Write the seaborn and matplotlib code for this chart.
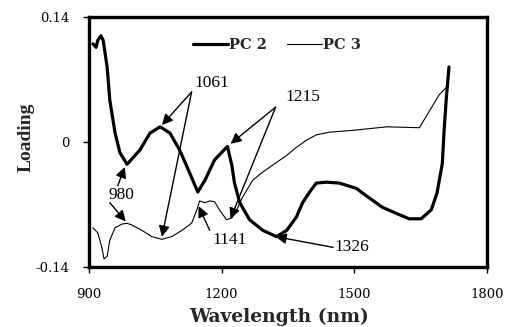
import matplotlib
matplotlib.use("Agg")
import matplotlib.pyplot as plt
import seaborn as sns
from matplotlib.lines import Line2D

# ---- data ----
pc2_nm = [909, 916, 920, 927, 932, 941, 947, 959, 970, 986, 1015, 1038, 1061, 1083,
          1105, 1128, 1146, 1162, 1184, 1213, 1223, 1229, 1241, 1263, 1293, 1324, 1347,
          1369, 1383, 1399, 1414, 1437, 1466, 1505, 1518, 1563, 1595, 1624, 1651, 1674,
          1687, 1699, 1703, 1708, 1714]
pc2_val = [0.110, 0.106, 0.114, 0.119, 0.114, 0.084, 0.047, 0.010, -0.012, -0.025,
           -0.009, 0.010, 0.017, 0.010, -0.009, -0.035, -0.056, -0.043, -0.020, -0.005,
           -0.026, -0.046, -0.068, -0.087, -0.099, -0.106, -0.099, -0.084, -0.068, -0.056,
           -0.046, -0.045, -0.046, -0.052, -0.057, -0.073, -0.080, -0.086, -0.086, -0.076,
           -0.057, -0.024, 0.013, 0.049, 0.084]

pc3_nm = [909, 920, 929, 934, 941, 947, 959, 974, 986, 997, 1020, 1042, 1065, 1087,
          1110, 1132, 1144, 1150, 1162, 1173, 1184, 1195, 1211, 1223, 1234, 1247, 1270,
          1292, 1315, 1347, 1369, 1392, 1414, 1444, 1495, 1574, 1647, 1669, 1692, 1710]
pc3_val = [-0.096, -0.102, -0.118, -0.131, -0.128, -0.110, -0.096, -0.092, -0.091, -0.093,
           -0.099, -0.106, -0.109, -0.106, -0.099, -0.091, -0.076, -0.066, -0.068, -0.066,
           -0.067, -0.076, -0.087, -0.085, -0.076, -0.062, -0.043, -0.034, -0.026, -0.015,
           -0.006, 0.002, 0.008, 0.011, 0.013, 0.017, 0.016, 0.034, 0.053, 0.062]

x_ticks = [900, 1200, 1500, 1800]
y_ticks = [-0.14, 0, 0.14]
y_tick_labels = ["-0.14", "0", "0.14"]
series_names = ["PC 2", "PC 3"]

# ---- figure ----
sns.set_theme(style="white")
plt.rcParams["font.family"] = ["DejaVu Serif"]

fig = plt.figure(figsize=(5.10, 3.27), dpi=100)
ax = fig.add_axes([89 / 510, 1 - 267 / 327, 398 / 510, 250 / 327])

sns.lineplot(x=pc2_nm, y=pc2_val, ax=ax, color="black", linewidth=2.3, sort=False)
sns.lineplot(x=pc3_nm, y=pc3_val, ax=ax, color="black", linewidth=0.8, sort=False)

ax.set_xlim(900, 1800)
ax.set_ylim(-0.14, 0.14)
ax.set_xticks(x_ticks)
ax.set_xticklabels([str(t) for t in x_ticks])
ax.set_yticks(y_ticks)
ax.set_yticklabels(y_tick_labels)

for side in ["left", "right", "top", "bottom"]:
    ax.spines[side].set_visible(True)
    ax.spines[side].set_color("black")
    ax.spines[side].set_linewidth(2.4)

ax.tick_params(axis="both", which="both", direction="out", length=4, width=1,
               colors="black", labelsize=9.5)
ax.tick_params(axis="x", pad=11)
ax.tick_params(axis="y", pad=10)
ax.tick_params(left=True, bottom=True, top=False, right=False)

ax.set_xlabel("Wavelength (nm)", fontsize=13.5, fontweight="bold", family="DejaVu Serif")
ax.set_ylabel("Loading", fontsize=14, fontweight="bold", family="Liberation Serif")
ax.xaxis.set_label_coords(0.477, -0.164)
ax.yaxis.set_label_coords(-0.136, 0.52)

# legend
handles = [Line2D([], [], color="black", linewidth=2.3),
           Line2D([], [], color="black", linewidth=0.8)]
ax.legend(handles, series_names, ncol=2, loc="center", bbox_to_anchor=(0.472, 0.888),
          frameon=False, handlelength=2.4, handletextpad=0.05, columnspacing=1.4,
          borderpad=0, prop={"family": "DejaVu Serif", "weight": "bold", "size": 10.5})

# annotations
arrow = dict(arrowstyle="-|>", color="black", lw=1.0, mutation_scale=16,
             shrinkA=0, shrinkB=0)
afont = dict(fontsize=12.5, family="Liberation Serif", color="black",
             ha="center", va="center")

ax.text(1177, 0.066, "1061", **afont)
ax.annotate("", xy=(1065, 0.019), xytext=(1132, 0.056), arrowprops=arrow)
ax.annotate("", xy=(1065, -0.106), xytext=(1132, 0.056), arrowprops=arrow)

ax.text(1383, 0.050, "1215", **afont)
ax.annotate("", xy=(1220, -0.002), xytext=(1322, 0.039), arrowprops=arrow)
ax.annotate("", xy=(1220, -0.086), xytext=(1322, 0.039), arrowprops=arrow)

ax.text(974, -0.059, "980", **afont)
ax.annotate("", xy=(981, -0.028), xytext=(965, -0.049), arrowprops=arrow)
ax.annotate("", xy=(983, -0.089), xytext=(947, -0.068), arrowprops=arrow)

ax.text(1218, -0.110, "1141", **afont)
ax.annotate("", xy=(1148, -0.072), xytext=(1173, -0.099), arrowprops=arrow)

ax.text(1495, -0.118, "1326", **afont)
ax.annotate("", xy=(1322, -0.106), xytext=(1452, -0.118), arrowprops=arrow)

fig.savefig("out.png", dpi=100, facecolor="white")
